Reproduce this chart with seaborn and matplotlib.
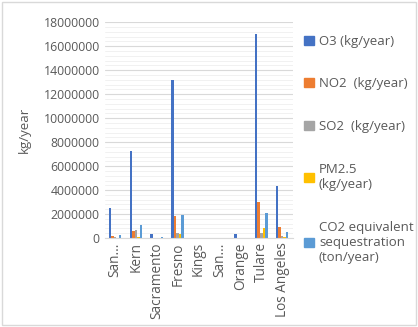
import matplotlib
matplotlib.use("Agg")
import matplotlib.pyplot as plt
import matplotlib.patches as mpatches
from matplotlib.ticker import MultipleLocator, FuncFormatter
import pandas as pd
import seaborn as sns

# counties on the x axis (long names are cut off in the original)
counties = ["San...", "Kern", "Sacramento", "Fresno", "Kings", "San...",
            "Orange", "Tulare", "Los Angeles"]

# values
o3 = [2500000, 7300000, 300000, 13200000, 20000, 30000, 350000, 17000000, 4300000]
no2 = [150000, 600000, 20000, 1800000, 5000, 5000, 20000, 3000000, 900000]
so2 = [50000, 700000, 10000, 400000, 2000, 2000, 5000, 400000, 200000]
pm25 = [20000, 100000, 5000, 350000, 1000, 1000, 3000, 850000, 50000]
co2 = [250000, 1100000, 50000, 1900000, 5000, 5000, 10000, 2100000, 500000]

series = ["O3 (kg/year)", "NO2  (kg/year)", "SO2  (kg/year)",
          "PM2.5\n(kg/year)", "CO2 equivalent\nsequestration\n(ton/year)"]
colors = ["#4472C4", "#ED7D31", "#A5A5A5", "#FFC000", "#5B9BD5"]

# unique keys for the x slots, since two labels are the same "San..."
keys = [f"c{i}" for i in range(len(counties))]
rows = []
for s_i, vals in enumerate([o3, no2, so2, pm25, co2]):
    for c_i, v in enumerate(vals):
        rows.append({"county": keys[c_i], "series": series[s_i], "value": v})
df = pd.DataFrame(rows)

sns.set_style("white")
plt.rcParams["font.family"] = ["Open Sans", "DejaVu Sans"]

fig = plt.figure(figsize=(4.18, 3.27), dpi=100)
ax = fig.add_axes([0.25, 0.272, 0.45, 0.66])

sns.barplot(data=df, x="county", y="value", hue="series", order=keys,
            hue_order=series, palette=dict(zip(series, colors)),
            width=0.6, ax=ax, legend=False, saturation=1, linewidth=0,
            errorbar=None)

ax.set_ylim(0, 18000000)
ax.yaxis.set_major_locator(MultipleLocator(2000000))
ax.yaxis.set_minor_locator(MultipleLocator(400000))
ax.yaxis.set_major_formatter(FuncFormatter(lambda v, p: f"{int(v)}"))
ax.grid(axis="y", which="major", color="#d9d9d9", lw=0.8)
ax.grid(axis="y", which="minor", color="#efefef", lw=0.6)
ax.set_axisbelow(True)
ax.set_xticks(range(len(counties)))
ax.set_xticklabels(counties, rotation=90, fontsize=9.8, color="#595959")
ax.tick_params(axis="y", labelsize=8.8, labelcolor="#595959", length=0)
ax.tick_params(axis="x", length=0, pad=3)
for s in ["top", "right", "left"]:
    ax.spines[s].set_visible(False)
ax.spines["bottom"].set_color("#d9d9d9")
ax.set_xlabel("")
ax.set_ylabel("kg/year", fontsize=9.5, color="#595959", labelpad=9)

handles = [mpatches.Patch(color=c, label=s) for c, s in zip(colors, series)]
fig.legend(handles=handles, loc="upper left", bbox_to_anchor=(0.70, 0.93),
           frameon=False, fontsize=9.5, labelcolor="#595959",
           handlelength=0.7, handleheight=0.7, handletextpad=0.4,
           labelspacing=2.25)

fig.patches.append(mpatches.Rectangle((0.005, 0.005), 0.99, 0.99,
                                      transform=fig.transFigure, fill=False,
                                      edgecolor="#d9d9d9", lw=1))

fig.savefig("out.png", dpi=100)
